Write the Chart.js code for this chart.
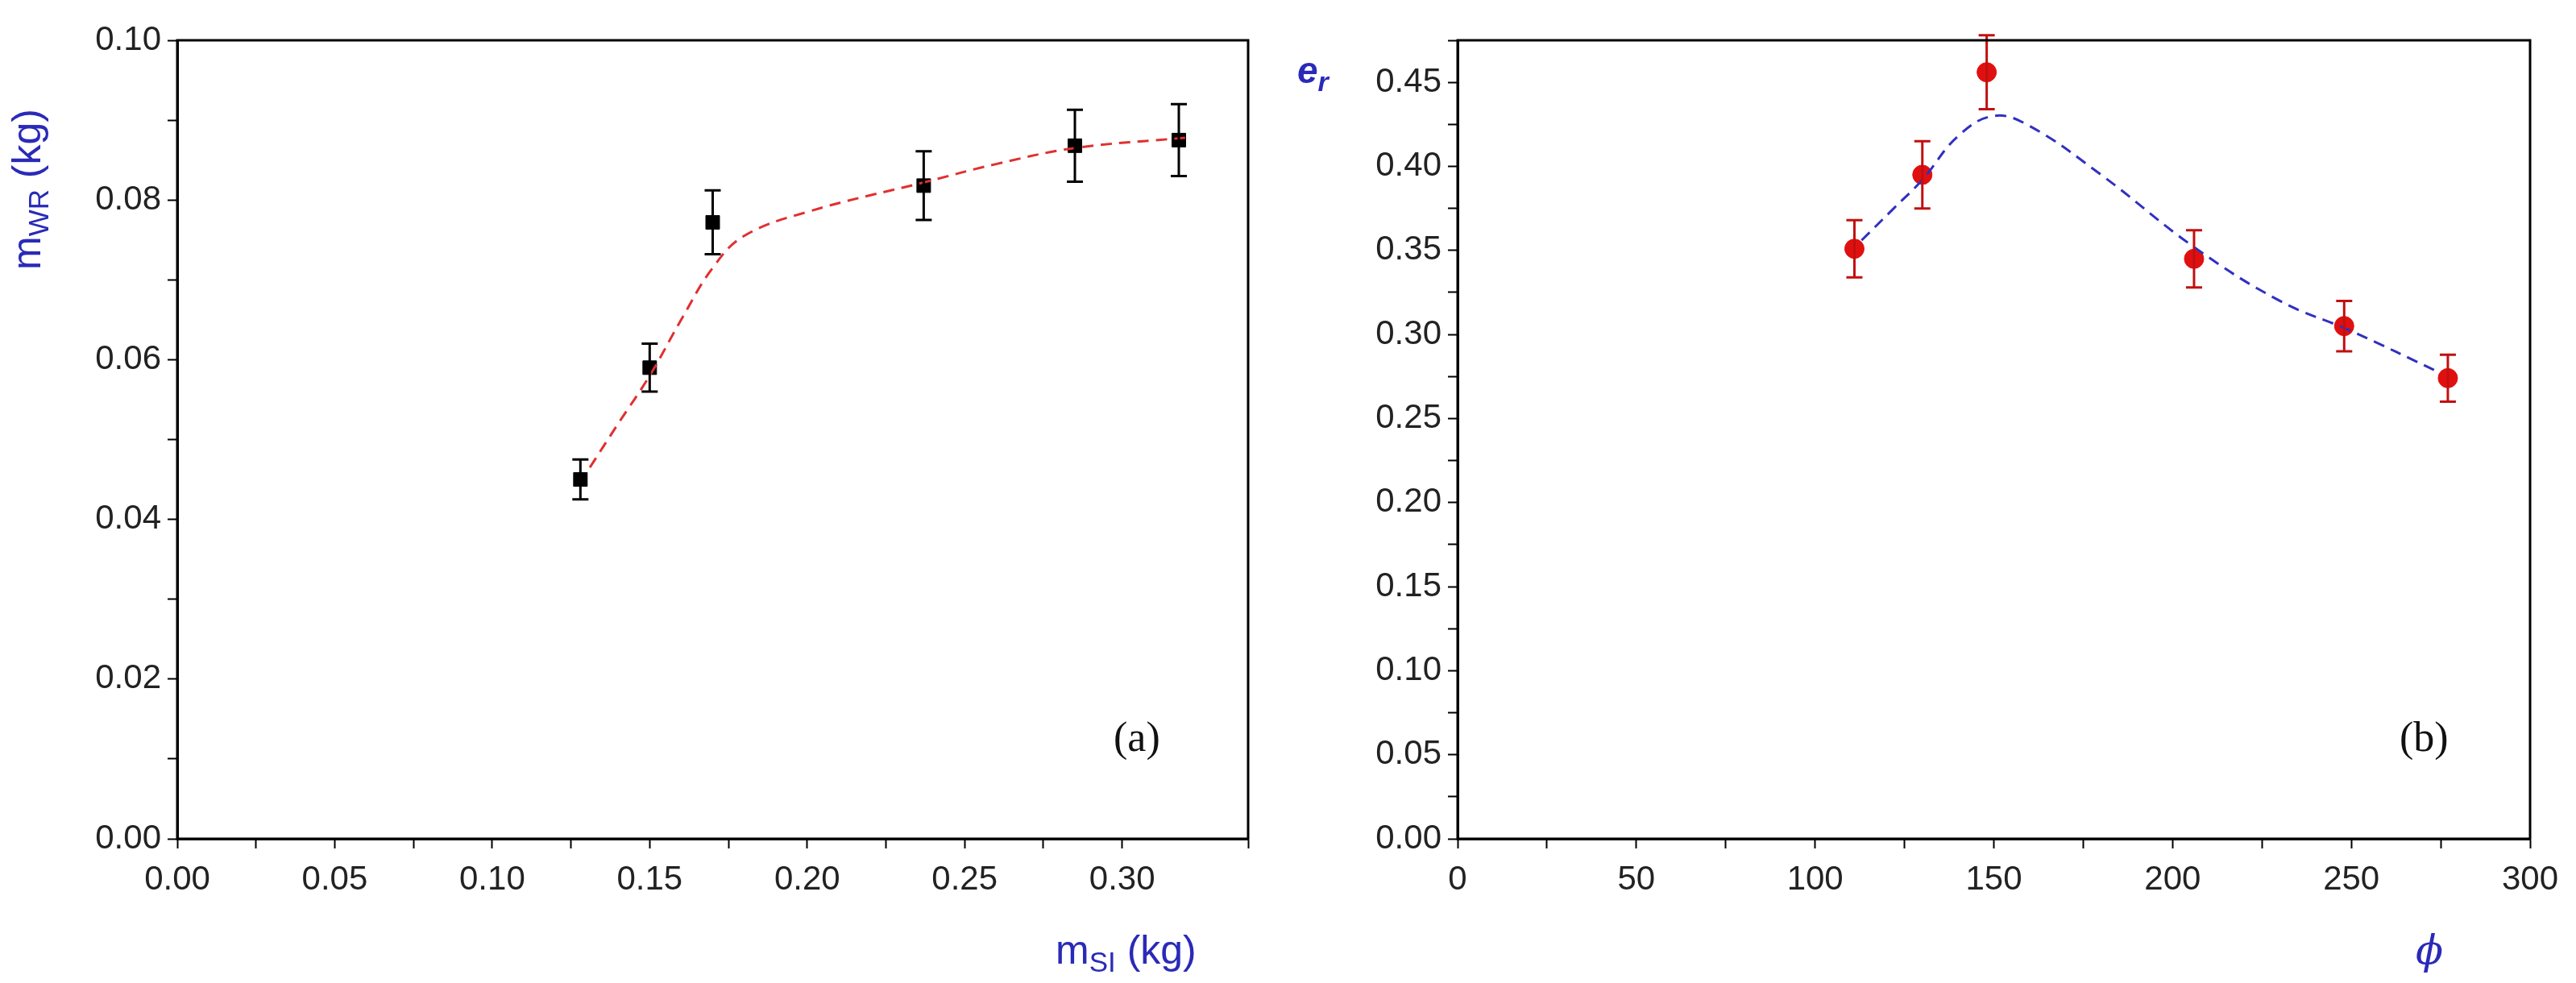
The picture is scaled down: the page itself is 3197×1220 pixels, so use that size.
<!DOCTYPE html>
<html><head><meta charset="utf-8">
<script src="https://cdn.jsdelivr.net/npm/chart.js@4"></script>
<style>
body{margin:0;background:#fff;width:3197px;height:1220px;position:relative;overflow:hidden;font-family:Arial,'Liberation Sans',sans-serif}
.c{position:absolute;top:0}
.t{position:absolute;color:#2a2ab8;font-size:50px;white-space:nowrap}
.t sub{font-size:35px;vertical-align:-10px}
.lab{position:absolute;font-family:'Liberation Serif','DejaVu Serif',serif;font-size:52px;color:#111}
</style></head><body>
<div class="c" style="left:0;width:1600px;height:1220px"><canvas id="a"></canvas></div>
<div class="c" style="left:1600px;width:1597px;height:1220px"><canvas id="b"></canvas></div>
<div class="t" style="left:4px;top:335px;transform:rotate(-90deg);transform-origin:left top">m<sub>WR</sub> (kg)</div>
<div class="t" style="left:1310px;top:1150px">m<sub>SI</sub> (kg)</div>
<div class="t" style="left:1610px;top:60px;font-style:italic;font-weight:bold;font-size:46px">e<sub style="font-size:34px">r</sub></div>
<div class="t" style="left:2998px;top:1150px;font-style:italic;font-family:'DejaVu Serif',serif">&#981;</div>
<div class="lab" style="left:1382px;top:885px">(a)</div>
<div class="lab" style="left:2978px;top:885px">(b)</div>
<script>
const aX=[0.128,0.150,0.170,0.237,0.285,0.318];
const aY=[0.0450,0.0590,0.0772,0.0818,0.0868,0.0875];
const aErr=[0.0025,0.0030,0.0040,0.0043,0.0045,0.0045];
const aFitX=[0.131,0.140,0.150,0.160,0.170,0.180,0.200,0.237,0.260,0.285,0.320];
const aFitY=[0.0465,0.0520,0.0580,0.0650,0.0715,0.0755,0.0785,0.0822,0.0845,0.0865,0.0878];
const bX=[111,130,148,206,248,277];
const bY=[0.351,0.395,0.456,0.345,0.305,0.274];
const bErr=[0.017,0.020,0.022,0.017,0.015,0.014];
const bFitX=[113,122,130,140,150,160,180,206,230,250,275];
const bFitY=[0.356,0.375,0.392,0.418,0.430,0.424,0.395,0.352,0.320,0.302,0.277];

const errPlugin={id:'err',afterDatasetsDraw(ch,args,o){
 const ds=ch.data.datasets[1],e=ch.options.plugins.err.vals,col=ch.options.plugins.err.color;
 const xs=ch.scales.x,ys=ch.scales.y,c=ch.ctx;c.save();c.strokeStyle=col;c.lineWidth=3;
 ds.data.forEach((p,i)=>{const x=xs.getPixelForValue(p.x),y1=ys.getPixelForValue(p.y-e[i]),y2=ys.getPixelForValue(p.y+e[i]);
  c.beginPath();c.moveTo(x,y1);c.lineTo(x,y2);c.moveTo(x-10,y1);c.lineTo(x+10,y1);c.moveTo(x-10,y2);c.lineTo(x+10,y2);c.stroke();});
 const a=ch.chartArea;c.strokeStyle='#000';c.lineWidth=3;c.strokeRect(a.left,a.top,a.right-a.left,a.bottom-a.top);c.restore();}};

function lbl(minor,dec){return v=>{const q=v/minor,k=Math.round(q);if(Math.abs(q-k)>1e-6)return '';return k%2===0?v.toFixed(dec):''};}
function mk(id,fx,fy,px,py,fitCol,ptCol,shape,r,xcfg,ycfg,err,left,bottom,right,top){
 const font={family:"'Liberation Sans Narrow','Liberation Sans',Arial",size:42};
 return new Chart(document.getElementById(id),{type:'scatter',
  data:{datasets:[
   {data:fx.map((x,i)=>({x,y:fy[i]})),showLine:true,tension:0.4,borderColor:fitCol,borderWidth:3,borderDash:[14,9],pointRadius:0},
   {data:px.map((x,i)=>({x,y:py[i]})),pointStyle:shape,pointRadius:r,backgroundColor:ptCol,borderColor:ptCol}]},
  options:{responsive:true,maintainAspectRatio:false,animation:false,
   layout:{padding:{top,right,left:0,bottom:0}},
   plugins:{legend:{display:false},tooltip:{enabled:false},err:{vals:err,color:ptCol==='#000'?'#000':'#c01010'}},
   scales:{
    x:{type:'linear',min:xcfg.min,max:xcfg.max,afterFit:s=>{s.height=bottom},
     ticks:{stepSize:xcfg.minor,color:'#222',font,padding:14,maxRotation:0,autoSkip:false,callback:lbl(xcfg.minor,xcfg.dec)},
     grid:{drawOnChartArea:false,tickLength:12,tickColor:'#000',tickWidth:2},border:{color:'#000',width:3}},
    y:{type:'linear',min:ycfg.min,max:ycfg.max,afterFit:s=>{s.width=left},
     ticks:{stepSize:ycfg.minor,color:'#222',font,padding:8,autoSkip:false,callback:lbl(ycfg.minor,2)},
     grid:{drawOnChartArea:false,tickLength:12,tickColor:'#000',tickWidth:2},border:{color:'#000',width:3}}}},
  plugins:[errPlugin]});
}
mk('a',aFitX,aFitY,aX,aY,'#e03030','#000','rect',12,{min:0,max:0.34,minor:0.025,dec:2},{min:0,max:0.10,minor:0.01},aErr,220,179,51,50);
mk('b',bFitX,bFitY,bX,bY,'#3030c0','#e01010','circle',12,{min:0,max:300,minor:25,dec:0},{min:0,max:0.475,minor:0.025},bErr,209,179,57,50);
</script></body></html>
